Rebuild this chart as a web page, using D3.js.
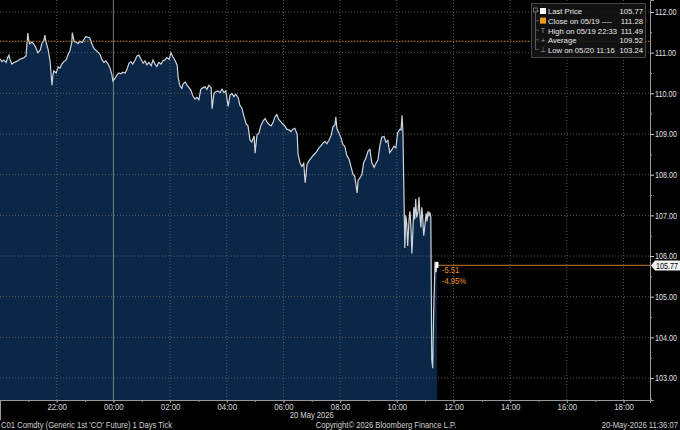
<!DOCTYPE html>
<html>
<head>
<meta charset="utf-8">
<script src="https://cdn.jsdelivr.net/npm/d3@7"></script>
<style>
  body { margin: 0; background: #000; }
  svg { display: block; font-family: "Liberation Sans", Arial, sans-serif; }
</style>
</head>
<body>
<svg id="chart" width="680" height="430"></svg>
<script>
// tick times (19 May 20:00 -> 20 May 11:25) and prices
var tickTimes = ["20:00","20:04","20:08","20:13","20:17","20:19","20:21","20:25","20:30","20:34","20:38","20:42","20:47","20:51","20:55","20:59",
  "21:01","21:03","21:08","21:12","21:16","21:20","21:25","21:29","21:33","21:35","21:37","21:42","21:46","21:50","21:52","21:54","21:59",
  "22:03","22:07","22:11","22:15","22:20","22:24","22:28","22:32","22:33","22:37","22:41","22:45","22:49","22:54","22:58",
  "23:02","23:06","23:10","23:15","23:19","23:23","23:27","23:32","23:36","23:40","23:44","23:49","23:53","23:57","23:59",
  "00:03","00:08","00:12","00:16","00:20","00:25","00:29","00:33","00:37","00:41","00:46","00:50","00:54","00:58",
  "01:03","01:07","01:11","01:15","01:20","01:24","01:28","01:32","01:36","01:41","01:45","01:49","01:53","01:58",
  "02:02","02:06","02:10","02:15","02:17","02:21","02:25","02:27","02:32","02:36","02:40","02:44","02:48","02:53","02:57",
  "03:01","03:05","03:10","03:14","03:18","03:22","03:27","03:29","03:33","03:37","03:41","03:46","03:50","03:54","03:58",
  "04:03","04:07","04:11","04:15","04:19","04:24","04:28","04:32","04:36","04:41","04:45","04:49","04:53","04:58",
  "05:00","05:04","05:08","05:12","05:17","05:21","05:25","05:29","05:34","05:38","05:42","05:46","05:50","05:55","05:59",
  "06:03","06:07","06:12","06:16","06:20","06:24","06:29","06:31","06:35","06:39","06:43","06:46","06:50","06:54","06:58",
  "07:02","07:07","07:11","07:15","07:19","07:24","07:28","07:32","07:36","07:41","07:45","07:49","07:51","07:53","07:57",
  "08:02","08:06","08:10","08:14","08:19","08:23","08:27","08:31","08:36","08:38","08:42","08:46","08:50","08:55","08:59",
  "09:03","09:07","09:12","09:16","09:20","09:24","09:28","09:33","09:37","09:41","09:45","09:50","09:54","09:58",
  "10:02","10:07","10:09","10:11","10:13","10:15","10:17","10:19","10:21","10:23","10:26","10:28","10:30","10:32","10:34","10:36","10:38",
  "10:40","10:42","10:45","10:47","10:49","10:51","10:53","10:55","10:57","10:59","11:02","11:04","11:06","11:08","11:10","11:12","11:14",
  "11:16","11:18","11:21","11:23","11:25"];
var tickPrices = [110.85,110.78,110.82,110.76,110.90,110.94,110.84,110.72,110.76,110.78,110.80,110.84,110.86,110.88,110.92,111.48,
  111.30,111.22,111.26,111.20,111.12,111.00,111.06,111.24,111.30,111.43,111.28,111.07,110.80,110.20,110.45,110.55,110.50,
  110.65,110.62,110.72,110.78,110.82,110.95,111.05,111.25,111.49,111.28,111.26,111.22,111.28,111.25,111.33,
  111.40,111.38,111.36,111.20,111.10,111.06,111.02,110.95,110.82,110.76,110.80,110.72,110.62,110.45,110.30,
  110.36,110.46,110.50,110.48,110.52,110.50,110.60,110.74,110.78,110.72,110.82,110.92,110.94,110.85,
  110.74,110.80,110.70,110.76,110.68,110.82,110.72,110.66,110.76,110.72,110.80,110.82,110.88,110.84,
  111.00,110.90,110.82,110.70,110.40,110.18,110.12,110.22,110.28,110.20,110.14,110.08,109.94,109.86,109.90,
  109.84,110.10,110.14,110.16,110.10,110.20,110.14,109.62,110.00,110.04,110.06,110.02,110.10,110.02,110.06,
  109.68,109.96,110.00,109.92,109.98,109.90,109.70,109.64,109.45,109.25,109.20,108.86,108.80,108.95,
  108.53,108.98,109.02,109.20,109.32,109.38,109.30,109.24,109.20,109.28,109.42,109.48,109.36,109.30,109.24,
  109.20,109.12,109.10,109.06,109.12,109.14,109.00,108.50,108.30,108.20,108.28,107.80,108.26,108.34,108.40,
  108.46,108.52,108.58,108.66,108.70,108.78,108.82,108.76,108.84,108.96,109.18,109.22,109.42,109.14,109.04,
  108.90,108.74,108.70,108.48,108.38,108.20,108.02,107.96,107.55,107.86,107.92,108.00,108.30,108.42,108.58,
  108.62,108.30,108.18,108.28,108.36,108.70,108.92,108.94,108.80,108.84,108.54,108.62,108.70,108.66,
  109.04,109.12,109.10,109.46,109.05,107.60,106.20,107.00,106.80,106.25,106.90,107.10,106.70,106.06,106.60,107.20,106.90,
  107.40,106.95,107.10,107.45,107.00,106.70,107.20,106.90,106.50,106.70,107.05,106.85,107.10,107.00,107.06,106.95,103.45,
  103.24,104.60,105.86,105.60,105.77];

var priceTicks = [103, 104, 105, 106, 107, 108, 109, 110, 111, 112];
var lastPrice = 105.77;
var closePrice = 111.28;
var changeLabels = ["-5.51", "-4.95%"];
var legendIcons = ["sq", "sq", "T", "+", "⊥"];
var legendColors = ["#ffffff", "#f39a1e", "#9a9a9a", "#9a9a9a", "#9a9a9a"];
var legendLabels = ["Last Price", "Close on 05/19 ----", "High on 05/19 22:33", "Average", "Low on 05/20 11:16"];
var legendValues = ["105.77", "111.28", "111.49", "109.52", "103.24"];

var W = 650, H = 400;
var svg = d3.select("#chart");
var parseTime = d3.timeParse("%Y-%m-%d %H:%M");
function toDate(t) {
  var h = +t.slice(0, 2);
  return parseTime((h >= 20 ? "2026-05-19 " : "2026-05-20 ") + t);
}
// narrow the glyphs a bit, like the terminal font (scale around x = 0)
function squeeze(sel, k) {
  sel.each(function() {
    var t = d3.select(this);
    var x0 = +(t.attr("x") || 0);
    t.attr("x", x0 / k).attr("transform", "scale(" + k + ",1)");
  });
}
var data = tickTimes.map(function(t, i) { return { t: toDate(t), p: tickPrices[i] }; });

var x = d3.scaleTime()
  .domain([parseTime("2026-05-19 20:00"), parseTime("2026-05-20 18:56")])
  .range([0, W]);
var y = d3.scaleLinear().domain([102.46, 112.295]).range([H, 0]);

svg.append("rect").attr("width", 680).attr("height", 430).attr("fill", "#000");

// area
svg.append("path").datum(data)
  .attr("fill", "#0a2748")
  .attr("d", d3.area().x(function(d) { return x(d.t); }).y0(H).y1(function(d) { return y(d.p); }));

// grid
var twoHours = x.ticks(d3.timeHour.every(2)).filter(function(d) { return x(d) > 10; });
svg.selectAll("hgrid").data(priceTicks).enter().append("line")
  .attr("x1", 0).attr("x2", W)
  .attr("y1", function(d) { return y(d); }).attr("y2", function(d) { return y(d); })
  .attr("stroke", "#6a6a6a").attr("stroke-width", 0.8).attr("stroke-dasharray", "1,2");
svg.selectAll("vgrid").data(twoHours).enter().append("line")
  .attr("x1", function(d) { return x(d); }).attr("x2", function(d) { return x(d); })
  .attr("y1", 0).attr("y2", H)
  .attr("stroke", function(d) { return d.getHours() === 0 ? "#9a9a9a" : "#6a6a6a"; })
  .attr("stroke-width", 0.8)
  .attr("stroke-dasharray", function(d) { return d.getHours() === 0 ? null : "1,2"; });

// price line
svg.append("path").datum(data)
  .attr("fill", "none").attr("stroke", "#cfd4db").attr("stroke-width", 1.2)
  .attr("d", d3.line().x(function(d) { return x(d.t); }).y(function(d) { return y(d.p); }));

// close line (dotted) and last price line
svg.append("line").attr("x1", 0).attr("x2", W)
  .attr("y1", y(closePrice)).attr("y2", y(closePrice))
  .attr("stroke", "#d8841f").attr("stroke-width", 1).attr("stroke-dasharray", "1.5,1.5");
var lastT = data[data.length - 1].t;
svg.append("line").attr("x1", x(lastT)).attr("x2", W)
  .attr("y1", y(lastPrice)).attr("y2", y(lastPrice))
  .attr("stroke", "#a0621c").attr("stroke-width", 1.2);
svg.append("rect").attr("x", x(lastT) - 1.5).attr("y", y(lastPrice) - 3.5)
  .attr("width", 3).attr("height", 6).attr("fill", "#fff");
svg.selectAll("chg").data(changeLabels).enter().append("text")
  .attr("x", x(lastT) + 5).attr("y", function(d, i) { return y(lastPrice) + 8 + i * 11; })
  .attr("fill", "#f0922a").attr("font-size", 9).text(function(d) { return d; })
  .call(squeeze, 0.85);

// x axis
var xAxis = svg.append("g").attr("transform", "translate(0," + H + ")")
  .call(d3.axisBottom(x).tickValues(twoHours).tickFormat(d3.timeFormat("%H:%M")).tickSize(3));
svg.append("g").attr("transform", "translate(0," + H + ")")
  .call(d3.axisBottom(x).ticks(d3.timeHour.every(1)).tickFormat("").tickSize(2))
  .call(function(g) { g.select(".domain").remove(); })
  .selectAll("line").attr("stroke", "#999");
xAxis.select(".domain").attr("stroke", "#999");
xAxis.selectAll("line").attr("stroke", "#999");
xAxis.selectAll("text").attr("fill", "#d8d8d8").attr("font-size", 8.5).attr("y", 4).attr("dy", "0.71em")
  .attr("font-family", null).call(squeeze, 0.92);

// y axis on the right
var yAxis = svg.append("g").attr("transform", "translate(" + W + ",0)")
  .call(d3.axisRight(y).tickValues(priceTicks).tickFormat(d3.format(".2f")).tickSize(4));
svg.append("g").attr("transform", "translate(" + W + ",0)")
  .call(d3.axisRight(y).tickValues(d3.range(102.5, 112.5, 1)).tickFormat("").tickSize(2))
  .call(function(g) { g.select(".domain").remove(); })
  .selectAll("line").attr("stroke", "#999");
yAxis.select(".domain").attr("stroke", "#999");
yAxis.selectAll("line").attr("stroke", "#ccc");
yAxis.selectAll("text").attr("fill", "#e0e0e0").attr("font-size", 9).attr("x", 5)
  .attr("font-family", null).call(squeeze, 0.8);

// last price tag on axis
var tag = svg.append("g").attr("transform", "translate(" + W + "," + y(lastPrice) + ")");
tag.append("path").attr("d", "M1,0 L5,-5 L30,-5 L30,5 L5,5 Z").attr("fill", "#f2f2f2");
tag.append("text").attr("x", 6).attr("y", 3.3).attr("font-size", 9).attr("fill", "#000")
  .text(d3.format(".2f")(lastPrice)).call(squeeze, 0.8);

// date + footer
svg.append("text").attr("x", x(parseTime("2026-05-20 07:00"))).attr("y", 418)
  .attr("text-anchor", "middle").attr("fill", "#d8d8d8").attr("font-size", 8.5).text("20 May 2026")
  .call(squeeze, 0.9);
svg.append("line").attr("x1", 0.5).attr("x2", 0.5).attr("y1", H).attr("y2", 420).attr("stroke", "#999");
svg.append("text").attr("x", 1).attr("y", 428).attr("fill", "#d0d0d0").attr("font-size", 8.5)
  .text("C01 Comdty (Generic 1st 'CO' Future) 1 Days Tick").call(squeeze, 0.9);
svg.append("text").attr("x", 386).attr("y", 428).attr("text-anchor", "middle").attr("fill", "#d0d0d0").attr("font-size", 8.5)
  .text("Copyright© 2026 Bloomberg Finance L.P.").call(squeeze, 0.9);
svg.append("text").attr("x", 678).attr("y", 428).attr("text-anchor", "end").attr("fill", "#d0d0d0").attr("font-size", 8.5)
  .text("20-May-2026 11:36:07").call(squeeze, 0.9);

// legend
var rowGap = 9.6;
var lg = svg.append("g");
lg.append("rect").attr("x", 531.5).attr("y", 3.5).attr("width", 114).attr("height", 54)
  .attr("fill", "#151515").attr("fill-opacity", 0.85).attr("stroke", "#555").attr("stroke-width", 0.8);
lg.append("rect").attr("x", 533.5).attr("y", 8).attr("width", 4).attr("height", 4)
  .attr("fill", "none").attr("stroke", "#888").attr("stroke-width", 0.7);
lg.append("line").attr("x1", 535.5).attr("x2", 535.5).attr("y1", 12).attr("y2", 50)
  .attr("stroke", "#777").attr("stroke-width", 0.7);
var item = lg.selectAll("item").data(legendLabels).enter().append("g")
  .attr("transform", function(d, i) { return "translate(0," + (11.5 + i * rowGap) + ")"; });
item.append("line").attr("x1", 535.5).attr("x2", 539).attr("y1", -0.5).attr("y2", -0.5)
  .attr("stroke", "#777").attr("stroke-width", 0.7);
item.each(function(d, i) {
  var g = d3.select(this);
  if (legendIcons[i] === "sq") {
    g.append("rect").attr("x", 540).attr("y", -3.5).attr("width", 6).attr("height", 6).attr("fill", legendColors[i]);
  } else {
    g.append("text").attr("x", 543).attr("y", 2.5).attr("text-anchor", "middle")
      .attr("fill", legendColors[i]).attr("font-size", 7).text(legendIcons[i]);
  }
});
item.append("text").attr("x", 548).attr("y", 2.8).attr("fill", "#e8e8e8").attr("font-size", 8)
  .text(function(d) { return d; }).call(squeeze, 0.96);
item.append("text").attr("x", 643).attr("y", 2.8).attr("text-anchor", "end").attr("fill", "#e8e8e8").attr("font-size", 8)
  .text(function(d, i) { return legendValues[i]; }).call(squeeze, 0.96);
</script>
</body>
</html>
